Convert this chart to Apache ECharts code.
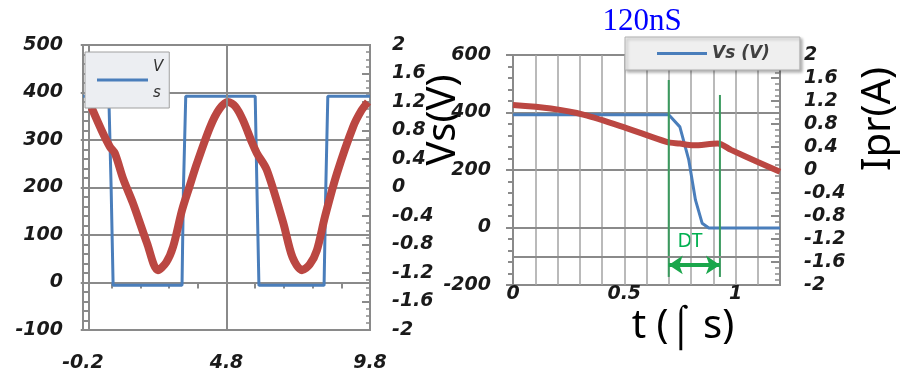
<!DOCTYPE html>
<html>
<head>
    <meta charset="utf-8">
    <title>Vs / Ipr</title>
    <script src="https://cdn.jsdelivr.net/npm/echarts@6/dist/echarts.min.js"></script>
    <style>
        html, body { margin: 0; padding: 0; background: #fff; }
        #chart1 { width: 901px; height: 376px; }
    </style>
</head>
<body>
<div id="chart1"></div>
<script type="text/javascript">
    // left panel: switching period view
    var vsLeftT = [-0.2, 0.70, 0.78, 0.85, 3.25, 3.30, 3.38, 5.80, 5.86, 5.93, 8.20, 8.26, 8.33, 9.8];
    var vsLeftV = [392, 392, 200, -6, -6, 200, 392, 392, 200, -6, -6, 200, 392, 392];
    var iprLeftT = [0.10, 0.45, 0.74, 0.91, 1.20, 1.54, 2.03, 2.41, 2.70, 2.94, 3.25, 3.50, 3.77, 4.23, 4.55, 4.85,
        5.10, 5.37, 5.70, 5.86, 6.20, 6.78, 7.10, 7.43, 7.70, 7.95, 8.23, 8.65, 9.21, 9.50, 9.73];
    var iprLeftA = [1.12, 0.80, 0.57, 0.48, 0.12, -0.22, -0.78, -1.16, -1.05, -0.83, -0.32, 0.00, 0.34, 0.85, 1.10, 1.20,
        1.14, 0.95, 0.62, 0.48, 0.25, -0.50, -0.98, -1.16, -1.08, -0.88, -0.41, 0.20, 0.85, 1.08, 1.20];

    // right panel: zoom on one edge
    var vsRightT = [0, 0.70, 0.75, 0.79, 0.82, 0.85, 0.88, 1.2];
    var vsRightV = [392, 392, 350, 235, 96, 15, -2, -2];
    var iprRightT = [0, 0.17, 0.32, 0.51, 0.69, 0.75, 0.81, 0.92, 0.98, 1.10, 1.2];
    var iprRightA = [1.13, 1.07, 0.96, 0.73, 0.49, 0.46, 0.43, 0.46, 0.35, 0.14, -0.03];

    // dead time markers (t in us, Vs span of the marker lines)
    var dtStart = 0.70, dtEnd = 0.93;
    var dtStartSpan = [513, -172];
    var dtEndSpan = [461, -172];
    var dtArrowV = -130;

    function zip(a, b) {
        var out = [];
        for (var i = 0; i < a.length; i++) out.push([a[i], b[i]]);
        return out;
    }

    var gray = '#8a8a8a';
    var blue = '#4a7ebb';
    var red = '#bb4742';
    var labelFont = {
        fontFamily: 'DejaVu Sans', fontWeight: 'bold', fontStyle: 'italic',
        fontSize: 19, color: '#1a1a1a'
    };
    function lbl(extra) {
        var o = {};
        for (var k in labelFont) o[k] = labelFont[k];
        for (var j in extra) o[j] = extra[j];
        return o;
    }
    function oneDec(v) { return String(+v.toFixed(1)); }

    var myChart1 = echarts.init(document.getElementById('chart1'));
    var options = {
        animation: false,
        grid: [
            {left: 83, top: 45, width: 287, height: 285, show: true, borderColor: gray, borderWidth: 2},
            {left: 513, top: 55, width: 267, height: 230, show: true, borderColor: gray, borderWidth: 2}
        ],
        legend: [
            {
                data: ['Vs'], left: 85, top: 52, orient: 'vertical',
                icon: 'rect', itemWidth: 51, itemHeight: 3, itemGap: 4,
                padding: [2, 6, 2, 12],
                backgroundColor: '#eceef2', borderColor: '#a0a0a0', borderWidth: 1,
                formatter: function () { return 'V\ns'; },
                textStyle: {fontFamily: 'DejaVu Sans', fontStyle: 'italic', fontSize: 15, color: '#333', lineHeight: 26}
            },
            {
                data: ['Vs (V)'], left: 625, top: 37,
                icon: 'rect', itemWidth: 50, itemHeight: 3,
                padding: [8, 30, 8, 32],
                backgroundColor: '#efefef', borderColor: '#b0b0b0', borderWidth: 1,
                shadowBlur: 3, shadowColor: 'rgba(0,0,0,0.3)', shadowOffsetX: 2, shadowOffsetY: 2,
                textStyle: {fontFamily: 'DejaVu Sans', fontStyle: 'italic', fontWeight: 'bold', fontSize: 17, color: '#404040'}
            }
        ],
        xAxis: [
            {
                type: 'value', gridIndex: 0, min: -0.2, max: 9.8, interval: 1,
                axisLine: {lineStyle: {color: gray, width: 2}},
                axisTick: {show: true, length: 6, lineStyle: {color: gray, width: 2}},
                splitLine: {show: false},
                axisLabel: lbl({
                    margin: 24,
                    formatter: function (v) {
                        var k = (v + 0.2) / 5;
                        return Math.abs(k - Math.round(k)) < 1e-6 ? oneDec(v) : '';
                    }
                })
            },
            {
                type: 'value', gridIndex: 1, min: 0, max: 1.2, interval: 0.1,
                axisLine: {lineStyle: {color: gray, width: 2}},
                axisTick: {show: false},
                splitLine: {show: true, lineStyle: {color: '#a3a3a3', width: 1.5}},
                axisLabel: lbl({
                    margin: 0,
                    formatter: function (v) {
                        var k = v * 2;
                        return Math.abs(k - Math.round(k)) < 1e-6 ? oneDec(v) : '';
                    }
                })
            }
        ],
        yAxis: [
            {
                type: 'value', gridIndex: 0, position: 'left', min: -100, max: 500, interval: 100,
                axisLine: {show: true, lineStyle: {color: gray, width: 2}},
                axisTick: {show: true, length: 8, lineStyle: {color: gray, width: 2}},
                minorTick: {show: true, splitNumber: 5, length: 6, lineStyle: {color: gray, width: 2}},
                splitLine: {show: true, lineStyle: {color: gray, width: 2}},
                axisLabel: lbl({margin: 20})
            },
            {
                type: 'value', gridIndex: 0, position: 'right', min: -2, max: 2, interval: 0.4,
                axisLine: {show: true, lineStyle: {color: gray, width: 2}},
                axisTick: {show: true, inside: true, length: 8, lineStyle: {color: gray, width: 2}},
                minorTick: {show: true, splitNumber: 4, length: 4, lineStyle: {color: gray, width: 1.5}},
                splitLine: {show: false},
                axisLabel: lbl({margin: 22, formatter: oneDec})
            },
            {
                type: 'value', gridIndex: 1, position: 'left', min: -200, max: 600, interval: 200,
                axisLine: {show: true, lineStyle: {color: gray, width: 2}},
                axisTick: {show: true, length: 7, lineStyle: {color: gray, width: 2}},
                minorTick: {show: true, splitNumber: 5, length: 5, lineStyle: {color: gray, width: 2}},
                splitLine: {show: true, lineStyle: {color: gray, width: 2}},
                axisLabel: lbl({margin: 22})
            },
            {
                type: 'value', gridIndex: 1, position: 'right', min: -2, max: 2, interval: 0.4,
                axisLine: {show: true, lineStyle: {color: gray, width: 2}},
                axisTick: {show: true, inside: true, length: 9, lineStyle: {color: gray, width: 2}},
                minorTick: {show: true, splitNumber: 4, length: 5, lineStyle: {color: gray, width: 1.5}},
                splitLine: {show: false},
                axisLabel: lbl({margin: 24, formatter: oneDec})
            }
        ],
        series: [
            {
                name: 'Vs', type: 'line', xAxisIndex: 0, yAxisIndex: 0,
                data: zip(vsLeftT, vsLeftV), showSymbol: false, color: blue,
                lineStyle: {color: blue, width: 3},
                markLine: {
                    silent: true, symbol: 'none', label: {show: false},
                    lineStyle: {color: gray, width: 2, type: 'solid'},
                    data: [{xAxis: 4.8}]
                }
            },
            {
                name: 'Ipr', type: 'line', xAxisIndex: 0, yAxisIndex: 1, z: 3,
                data: zip(iprLeftT, iprLeftA), showSymbol: false, smooth: 0.3, color: red,
                lineStyle: {color: red, width: 8}
            },
            {
                name: 'Vs (V)', type: 'line', xAxisIndex: 1, yAxisIndex: 2,
                data: zip(vsRightT, vsRightV), showSymbol: false, color: blue,
                lineStyle: {color: blue, width: 3},
                markLine: {
                    silent: true, symbol: 'none', label: {show: false},
                    lineStyle: {color: gray, width: 2, type: 'solid'},
                    data: [{yAxis: -100}]
                }
            },
            {
                name: 'Ipr (A)', type: 'line', xAxisIndex: 1, yAxisIndex: 3, z: 3,
                data: zip(iprRightT, iprRightA), showSymbol: false, smooth: 0.3, color: red,
                lineStyle: {color: red, width: 6}
            },
            {
                name: 'DT start', type: 'line', xAxisIndex: 1, yAxisIndex: 2, z: 4,
                data: [[dtStart, dtStartSpan[0]], [dtStart, dtStartSpan[1]]], showSymbol: false,
                lineStyle: {color: '#3a9a5e', width: 2},
                markLine: {
                    silent: true, symbol: ['arrow', 'arrow'], symbolSize: [14, 14],
                    label: {show: false},
                    lineStyle: {color: '#1aa64b', width: 4, type: 'solid'},
                    data: [[{coord: [dtStart, dtArrowV]}, {coord: [dtEnd, dtArrowV]}]]
                }
            },
            {
                name: 'DT end', type: 'line', xAxisIndex: 1, yAxisIndex: 2, z: 4,
                data: [[dtEnd, dtEndSpan[0]], [dtEnd, dtEndSpan[1]]], showSymbol: false,
                lineStyle: {color: '#3a9a5e', width: 2}
            }
        ],
        graphic: [
            {
                type: 'text', x: 444, y: 120, rotation: Math.PI / 2,
                style: {text: 'Vs(V)', font: '40px "Noto Sans"', fill: '#000', textAlign: 'center', textVerticalAlign: 'middle'}
            },
            {
                type: 'text', x: 879, y: 119, rotation: Math.PI / 2,
                style: {text: 'Ipr(A)', font: '40px "Noto Sans"', fill: '#000', textAlign: 'center', textVerticalAlign: 'middle'}
            },
            {
                type: 'text', x: 683, y: 327,
                style: {text: 't (\u2320 s)', font: '40px "Noto Sans"', fill: '#000', textAlign: 'center', textVerticalAlign: 'middle'}
            },
            {
                type: 'text', x: 642, y: 22,
                style: {text: '120nS', font: '31px "Liberation Serif"', fill: '#0000ff', textAlign: 'center', textVerticalAlign: 'middle'}
            },
            {
                type: 'text', x: 690, y: 241,
                style: {text: 'DT', font: '20px "Noto Sans"', fill: '#00b050', textAlign: 'center', textVerticalAlign: 'middle'}
            }
        ]
    };
    myChart1.setOption(options);
    window.addEventListener('resize', function () {
        myChart1.resize()
    })
</script>
</body>
</html>
